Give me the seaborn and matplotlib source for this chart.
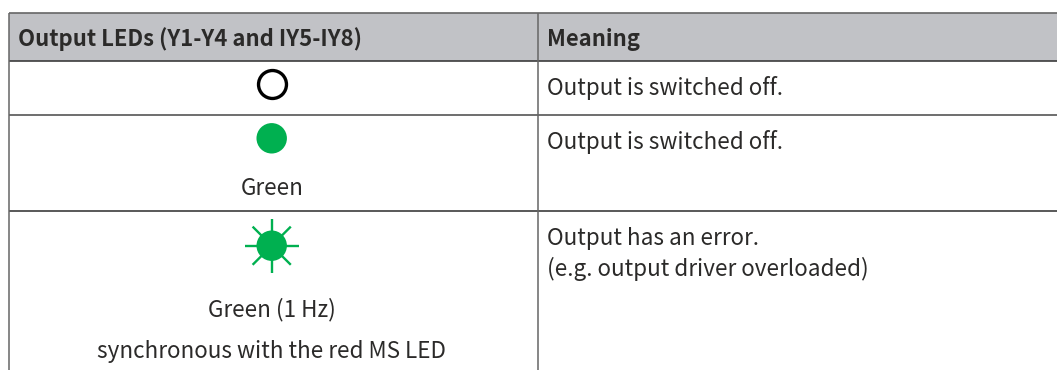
import matplotlib
matplotlib.use("Agg")
import matplotlib.pyplot as plt
import seaborn as sns
import numpy as np
import pandas as pd

sns.set_theme(style="white")
plt.rcParams['font.family'] = ['Noto Sans CJK SC', 'DejaVu Sans']

W, H = 1057, 370
headers = ["Output LEDs (Y1-Y4 and IY5-IY8)", "Meaning"]
row_lines = [13.3, 61, 114.5, 211]
row_colors = ["#666666", "#3c3c3c", "#555555", "#3c3c3c"]
col_lines = [8.5, 537.5]
meanings = ["Output is switched off.", "Output is switched off.",
            "Output has an error.\n(e.g. output driver overloaded)"]
captions = ["Green", "Green (1 Hz)", "synchronous with the red MS LED"]
GREEN = "#00b050"
INK = "#2b2a29"
LINE = "#666666"

fig = plt.figure(figsize=(W / 100, H / 100), dpi=100)
ax = fig.add_axes([0, 0, 1, 1])
ax.set_xlim(0, W)
ax.set_ylim(H, 0)
ax.axis("off")

ax.fill_between([8.5, W], 13.3, 61, color="#c1c2c6", lw=0, zorder=1)
for y, c in zip(row_lines, row_colors):
    ax.plot([8.5, W], [y, y], color=c, lw=1.2, zorder=3, solid_capstyle="butt")
for x in col_lines:
    ax.plot([x, x], [13.3, H], color=LINE, lw=1.1, zorder=3, solid_capstyle="butt")

FS = 16.2
HS = 15.9
ax.text(18, 46, headers[0], fontsize=HS, fontweight="bold", color=INK, va="baseline", ha="left")
ax.text(547, 46, headers[1], fontsize=HS, fontweight="bold", color=INK, va="baseline", ha="left")

# LED symbols
leds = pd.DataFrame({"x": [271.7, 271.7, 271.7], "y": [84.3, 138.3, 245.7]})
sns.scatterplot(data=leds.iloc[[0]], x="x", y="y", ax=ax, s=405, facecolor="white",
                edgecolor="black", linewidth=2.4, zorder=4, legend=False)
sns.scatterplot(data=leds.iloc[[1, 2]], x="x", y="y", ax=ax, s=480, color=GREEN,
                edgecolor="none", zorder=4, legend=False)
ax.set_xlabel("")
ax.set_ylabel("")
cx, cy = leds.x[2], leds.y[2]
for a in np.arange(0, 360, 45):
    c, s = np.cos(np.radians(a)), np.sin(np.radians(a))
    ax.plot([cx + 12 * c, cx + 27 * c], [cy + 12 * s, cy + 27 * s], color=GREEN, lw=1.7,
            zorder=3, solid_capstyle="butt")

ax.text(271.7, 195, captions[0], fontsize=FS, color=INK, ha="center", va="baseline")
ax.text(271.7, 316.7, captions[1], fontsize=FS, color=INK, ha="center", va="baseline")
ax.text(271.7, 358.3, captions[2], fontsize=FS, color=INK, ha="center", va="baseline")

ax.text(547, 95, meanings[0], fontsize=FS, color=INK, va="baseline", ha="left")
ax.text(547, 148.5, meanings[1], fontsize=FS, color=INK, va="baseline", ha="left")
m = meanings[2].split("\n")
ax.text(547, 245, m[0], fontsize=FS, color=INK, va="baseline", ha="left")
ax.text(547, 276, m[1], fontsize=FS, color=INK, va="baseline", ha="left")

fig.savefig("out.png", dpi=100)
